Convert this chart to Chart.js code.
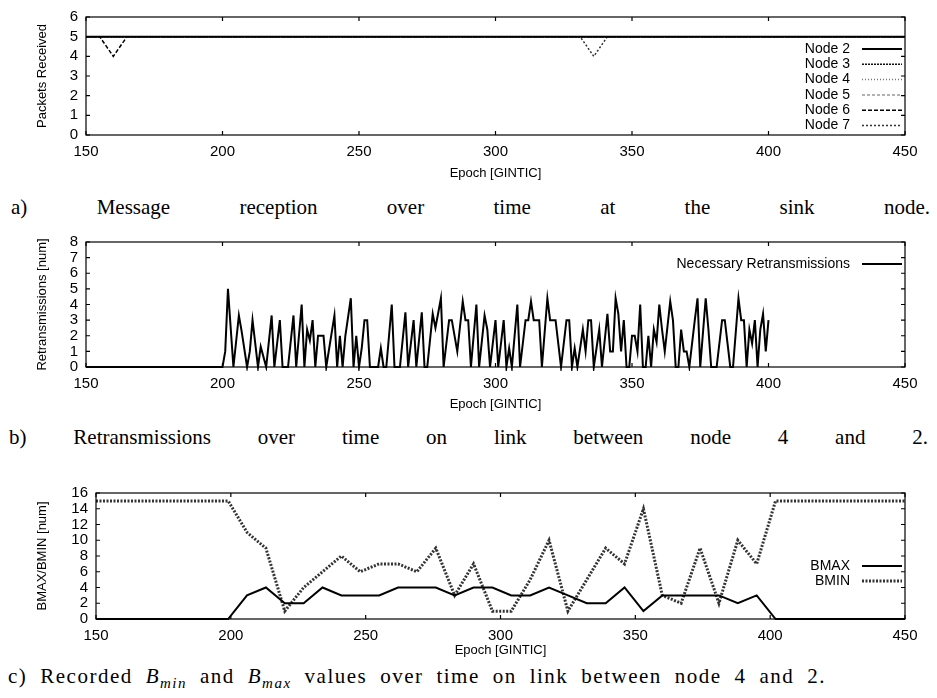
<!DOCTYPE html>
<html>
<head>
<meta charset="utf-8">
<script src="https://cdn.jsdelivr.net/npm/chart.js@4.4.1/dist/chart.umd.min.js"></script>
<style>
  body { margin: 0; background: #fff; width: 937px; height: 698px; position: relative; overflow: hidden; }
  canvas { position: absolute; left: 0; }
  .cap { position: absolute; font-family: "Liberation Serif", "DejaVu Serif", serif; font-size: 21px; line-height: 24px; color: #000; white-space: nowrap; }
  .just { text-align: justify; text-align-last: justify; white-space: normal; }
  sub { font-size: 15px; line-height: 0; }
</style>
</head>
<body>
<canvas id="chartA" width="937" height="183" style="top:0px"></canvas>
<div class="cap just" style="top:195px; left:11px; width:919px">a) Message reception over time at the sink node.</div>
<canvas id="chartB" width="937" height="189" style="top:225px"></canvas>
<div class="cap just" style="top:425px; left:9px; width:919px">b) Retransmissions over time on link between node 4 and 2.</div>
<canvas id="chartC" width="937" height="185" style="top:475px"></canvas>
<div class="cap" id="capC" style="top:664px; left:8px">c) Recorded <i>B</i><sub><i>min</i></sub> and <i>B</i><sub><i>max</i></sub> values over time on link between node 4 and 2.</div>

<script>
// --- chart a: packets received per node ---
const nodeNames = ['Node 2', 'Node 3', 'Node 4', 'Node 5', 'Node 6', 'Node 7'];
const node2Epochs = [150, 450];
const node2Values = [5, 5];
const node3Epochs = [150, 450];
const node3Values = [5, 5];
const node4Epochs = [150, 450];
const node4Values = [5, 5];
const node5Epochs = [150, 450];
const node5Values = [5, 5];
const node6Epochs = [150, 155, 160, 165, 450];
const node6Values = [5, 5, 4, 5, 5];
const node7Epochs = [150, 331, 336, 341, 450];
const node7Values = [5, 5, 4, 5, 5];

// --- chart b: necessary retransmissions ---
const retxEpochs = [150, 200, 201, 202, 204, 206, 207, 209, 210, 211, 213, 214, 216, 218, 219, 221, 222, 224, 226, 227,
  229, 230, 231, 232, 233, 234, 235, 237, 238, 241, 242, 243, 244, 245, 247, 248, 249, 250, 251, 252,
  253, 254, 257, 258, 259, 260, 262, 263, 265, 267, 268, 270, 271, 273, 274, 275, 277, 278, 280, 281,
  283, 284, 286, 288, 289, 290, 291, 293, 294, 296, 297, 298, 300, 301, 303, 304, 305, 306, 308, 309,
  311, 312, 313, 314, 316, 317, 319, 320, 322, 324, 326, 327, 328, 329, 330, 332, 333, 334, 335, 336,
  338, 339, 341, 342, 343, 344, 345, 346, 347, 348, 349, 350, 351, 352, 353, 354, 355, 356, 357, 358,
  359, 360, 361, 362, 364, 365, 366, 367, 368, 369, 370, 371, 373, 374, 375, 377, 378, 379, 381, 383,
  384, 385, 386, 387, 389, 390, 391, 392, 393, 394, 395, 396, 397, 398, 399, 400];
const retxValues = [0, 0, 1, 5, 0, 3.3, 2.3, 0, 1, 3, 0, 1.3, 0, 3.3, 0, 3, 0, 0, 3.3, 0,
  4, 0, 2.4, 1.7, 3, 0, 2, 2, 0, 3.3, 0, 2, 0, 2, 4.4, 0, 2, 0, 1.2, 3,
  3, 0, 0, 1.2, 0, 0, 4, 0, 0, 3.5, 0, 3, 0, 3.5, 0, 0, 3.4, 2.5, 4.4, 0,
  3, 3, 1, 4.2, 3, 3, 0, 4, 0, 3.3, 2.4, 0, 3, 0, 3, 0, 1.2, 0, 4, 0,
  3, 3, 4.2, 3, 3, 0, 4.4, 3, 3, 0, 3, 3, 0, 1.2, 0, 2.4, 1, 3, 3, 0,
  2.4, 0, 3.4, 1, 1, 4.4, 3.4, 1, 3, 0, 0, 2, 2, 1, 4, 0, 0, 2, 0, 2.4,
  1.6, 4, 2.4, 1, 4.2, 3, 0, 0, 2.4, 1, 1, 0, 3, 4.4, 0, 4.4, 2.4, 0, 0, 3,
  3, 1.5, 0, 0, 4.4, 3, 3, 0, 2.4, 1.5, 3, 0, 2.4, 3.4, 1, 3];

// --- chart c: recorded BMAX / BMIN ---
const bEpochs = [150, 157, 164, 171, 178, 185, 192, 199, 206, 213, 220, 227, 234, 241, 248, 255, 262, 269, 276, 283,
  290, 297, 304, 311, 318, 325, 332, 339, 346, 353, 360, 367, 374, 381, 388, 395, 402, 409, 416, 423,
  430, 437, 444, 451];
const bmaxValues = [0, 0, 0, 0, 0, 0, 0, 0, 3, 4, 2, 2, 4, 3, 3, 3, 4, 4, 4, 3,
  4, 4, 3, 3, 4, 3, 2, 2, 4, 1, 3, 3, 3, 3, 2, 3, 0, 0, 0, 0,
  0, 0, 0, 0];
const bminValues = [15, 15, 15, 15, 15, 15, 15, 15, 11, 9, 1, 4, 6, 8, 6, 7, 7, 6, 9, 3,
  7, 1, 1, 5, 10, 1, 5, 9, 7, 14, 3, 2, 9, 2, 10, 7, 15, 15, 15, 15,
  15, 15, 15, 15];

Chart.defaults.font.family = "'Liberation Sans', Arial, sans-serif";
Chart.defaults.font.size = 15;
Chart.defaults.color = '#000';

const pts = (xs, ys) => xs.map((x, i) => ({ x: x, y: ys[i] }));

// gnuplot style frame with inward ticks on all four sides
const frameTicks = {
  id: 'frameTicks',
  afterDatasetsDraw(chart) {
    const { ctx, chartArea: a, scales: { x, y } } = chart;
    ctx.save();
    ctx.strokeStyle = '#000';
    ctx.lineWidth = 1.2;
    ctx.setLineDash([]);
    ctx.strokeRect(a.left, a.top, a.right - a.left, a.bottom - a.top);
    ctx.beginPath();
    x.ticks.forEach(t => {
      const px = x.getPixelForValue(t.value);
      ctx.moveTo(px, a.bottom); ctx.lineTo(px, a.bottom - 4);
      ctx.moveTo(px, a.top); ctx.lineTo(px, a.top + 4);
    });
    y.ticks.forEach(t => {
      const py = y.getPixelForValue(t.value);
      ctx.moveTo(a.left, py); ctx.lineTo(a.left + 4, py);
      ctx.moveTo(a.right, py); ctx.lineTo(a.right - 4, py);
    });
    ctx.stroke();
    ctx.restore();
  }
};

// legend with text on the left and line sample on the right
const lineLegend = {
  id: 'lineLegend',
  afterDraw(chart, args, opts) {
    const ctx = chart.ctx;
    ctx.save();
    ctx.font = "14px 'Liberation Sans', Arial, sans-serif";
    ctx.fillStyle = '#000';
    ctx.textAlign = 'right';
    ctx.textBaseline = 'middle';
    chart.data.datasets.forEach((ds, i) => {
      const yy = opts.top + i * opts.step;
      ctx.fillText(ds.label, opts.textRight, yy);
      ctx.strokeStyle = ds.borderColor;
      ctx.lineWidth = ds.borderWidth;
      ctx.setLineDash(ds.borderDash || []);
      ctx.beginPath();
      ctx.moveTo(opts.lineFrom, yy);
      ctx.lineTo(opts.lineTo, yy);
      ctx.stroke();
    });
    ctx.restore();
  }
};

function xScale(h) {
  return {
    type: 'linear', min: 150, max: 450,
    ticks: { stepSize: 50, padding: 8, autoSkip: false },
    grid: { display: false, drawTicks: false },
    border: { display: false },
    title: { display: true, text: 'Epoch [GINTIC]', font: { size: 13 }, padding: { top: 0, bottom: 2 } },
    afterFit: s => { s.height = h; }
  };
}

function yScale(max, step, title, w) {
  return {
    min: 0, max: max,
    ticks: { stepSize: step, padding: 8, autoSkip: false },
    grid: { display: false, drawTicks: false },
    border: { display: false },
    title: { display: true, text: title, font: { size: 13 }, padding: { top: 5, bottom: 0 } },
    afterFit: s => { s.width = w; }
  };
}

const line = (label, data, color, width, dash) => ({
  label: label, data: data, borderColor: color, borderWidth: width, borderDash: dash,
  pointRadius: 0, tension: 0, fill: false, clip: { left: 0, right: 0, top: 4, bottom: 4 }
});

new Chart(document.getElementById('chartA'), {
  type: 'line',
  data: {
    datasets: [
      line(nodeNames[0], pts(node2Epochs, node2Values), '#000', 2, []),
      line(nodeNames[1], pts(node3Epochs, node3Values), '#111', 1.5, [2, 1]),
      line(nodeNames[2], pts(node4Epochs, node4Values), '#777', 1.5, [1, 2]),
      line(nodeNames[3], pts(node5Epochs, node5Values), '#999', 1.5, [3, 2]),
      line(nodeNames[4], pts(node6Epochs, node6Values), '#000', 1.5, [4, 2]),
      line(nodeNames[5], pts(node7Epochs, node7Values), '#333', 1.5, [2, 2])
    ]
  },
  options: {
    responsive: false, animation: false,
    layout: { padding: { left: 30, right: 32, top: 9, bottom: 0 } },
    scales: { x: xScale(48), y: yScale(6, 1, 'Packets Received', 56) },
    plugins: {
      legend: { display: false }, tooltip: { enabled: false },
      lineLegend: { textRight: 850, lineFrom: 862, lineTo: 902, top: 49, step: 15.3 }
    }
  },
  plugins: [frameTicks, lineLegend]
});

new Chart(document.getElementById('chartB'), {
  type: 'line',
  data: {
    datasets: [
      line('Necessary Retransmissions', pts(retxEpochs, retxValues), '#000', 2, [])
    ]
  },
  options: {
    responsive: false, animation: false,
    layout: { padding: { left: 30, right: 32, top: 15, bottom: 0 } },
    scales: { x: xScale(47), y: yScale(8, 1, 'Retransmissions [num]', 56) },
    plugins: {
      legend: { display: false }, tooltip: { enabled: false },
      lineLegend: { textRight: 850, lineFrom: 862, lineTo: 902, top: 39, step: 15 }
    }
  },
  plugins: [frameTicks, lineLegend]
});

new Chart(document.getElementById('chartC'), {
  type: 'line',
  data: {
    datasets: [
      line('BMAX', pts(bEpochs, bmaxValues), '#000', 2, []),
      line('BMIN', pts(bEpochs, bminValues), '#333', 3, [2, 1.5])
    ]
  },
  options: {
    responsive: false, animation: false,
    layout: { padding: { left: 30, right: 32, top: 18, bottom: 0 } },
    scales: { x: xScale(41), y: yScale(16, 2, 'BMAX/BMIN [num]', 66) },
    plugins: {
      legend: { display: false }, tooltip: { enabled: false },
      lineLegend: { textRight: 850, lineFrom: 862, lineTo: 902, top: 91, step: 15 }
    }
  },
  plugins: [frameTicks, lineLegend]
});

// stretch caption c to the width it has in the figure
const capC = document.getElementById('capC');
const wantW = 818;
capC.style.letterSpacing = '1.5px';
const spaces = capC.textContent.split(' ').length - 1;
capC.style.wordSpacing = Math.max(0, (wantW - capC.getBoundingClientRect().width) / spaces) + 'px';
</script>
</body>
</html>
